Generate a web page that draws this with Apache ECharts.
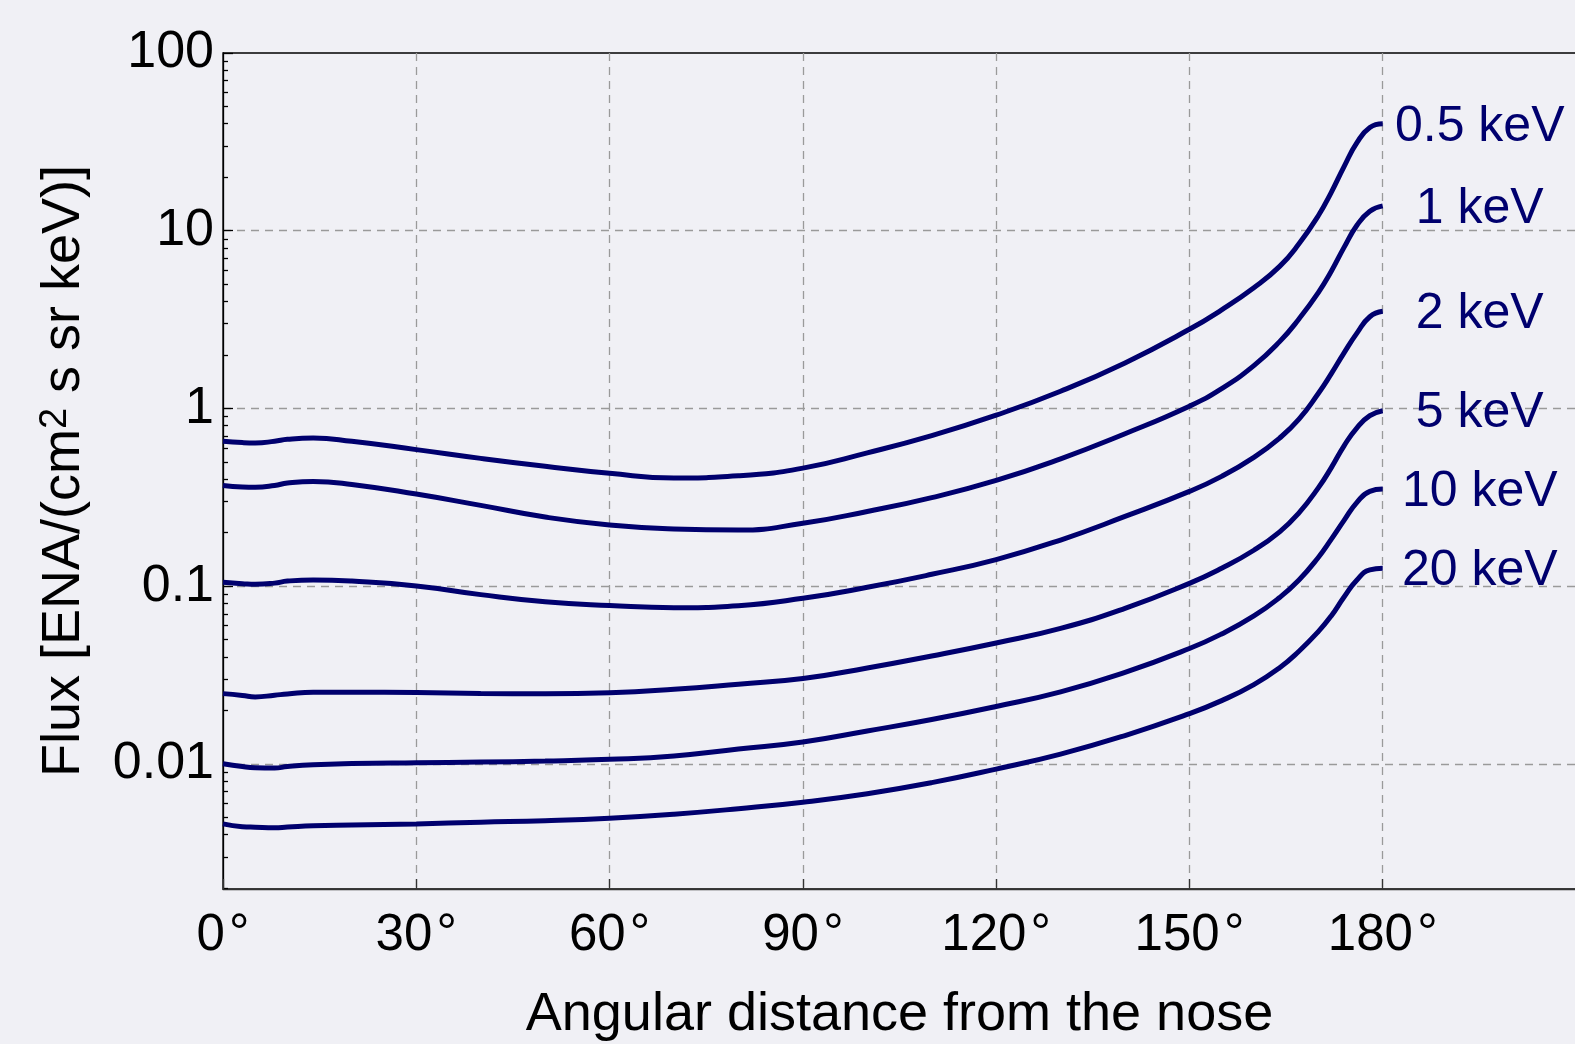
<!DOCTYPE html>
<html>
<head>
<meta charset="utf-8">
<script src="https://cdn.jsdelivr.net/npm/echarts@6/dist/echarts.min.js"></script>
<style>
  html, body { margin: 0; padding: 0; background: #f0f0f5; }
  #chart { width: 1575px; height: 1044px; }
</style>
</head>
<body>
<div id="chart"></div>
<script>
// angular distance from the nose (deg)
const angles = [0, 3, 5, 8, 10, 14, 20, 30, 40, 50, 60, 70, 80, 90, 100, 110, 120, 130, 140, 150, 155, 160, 164, 167, 170, 172, 174, 176, 178, 180]

// flux [ENA/(cm2 s sr keV)] per energy
const flux05 = [0.654, 0.643, 0.640, 0.654, 0.671, 0.682, 0.654, 0.587, 0.524, 0.473, 0.432, 0.407, 0.418, 0.462, 0.563, 0.704, 0.917, 1.25, 1.805, 2.79, 3.59, 4.78, 6.30, 8.44, 12.15, 16.4, 22.96, 31.3, 38.1, 40.0]
const flux1 = [0.369, 0.362, 0.361, 0.369, 0.381, 0.389, 0.374, 0.330, 0.285, 0.245, 0.221, 0.210, 0.207, 0.226, 0.2635, 0.3152, 0.3941, 0.521, 0.7211, 1.03, 1.293, 1.743, 2.378, 3.19, 4.49, 5.90, 8.06, 10.73, 12.86, 13.8]
const flux2 = [0.1052, 0.1034, 0.1025, 0.1041, 0.1069, 0.1085, 0.1069, 0.1004, 0.0897, 0.0818, 0.0779, 0.0757, 0.0777, 0.0855, 0.0986, 0.1167, 0.1413, 0.182, 0.247, 0.3416, 0.415, 0.531, 0.682, 0.871, 1.214, 1.565, 2.056, 2.654, 3.281, 3.52]
const flux5 = [0.02488, 0.02431, 0.02384, 0.02437, 0.02478, 0.02534, 0.02534, 0.02521, 0.02495, 0.02485, 0.02520, 0.02635, 0.02812, 0.03024, 0.03467, 0.04050, 0.04795, 0.0579, 0.0751, 0.1038, 0.1262, 0.1594, 0.2024, 0.2587, 0.3574, 0.4636, 0.6167, 0.7790, 0.9108, 0.9718]
const flux10 = [0.01003, 0.00967, 0.00952, 0.00948, 0.00967, 0.00990, 0.01005, 0.01016, 0.01025, 0.01038, 0.01062, 0.01110, 0.01213, 0.01329, 0.01533, 0.01779, 0.02107, 0.02543, 0.03276, 0.04464, 0.0539, 0.06808, 0.08645, 0.1084, 0.1452, 0.1834, 0.2348, 0.2966, 0.342, 0.3519]
const flux20 = [0.00460, 0.004436, 0.004408, 0.00438, 0.004419, 0.004495, 0.004535, 0.00460, 0.004703, 0.004796, 0.004954, 0.005218, 0.005603, 0.006097, 0.006808, 0.007854, 0.009359, 0.01137, 0.01446, 0.01919, 0.02272, 0.02797, 0.0348, 0.0431, 0.05553, 0.068, 0.08703, 0.1085, 0.1235, 0.1262]

const energyLabels = ['0.5 keV', '1 keV', '2 keV', '5 keV', '10 keV', '20 keV']
const fluxSeries = [flux05, flux1, flux2, flux5, flux10, flux20]

// axis ticks
const xTickValues = [0, 30, 60, 90, 120, 150, 180]
const yTickValues = [0.01, 0.1, 1, 10, 100]
const yTickLabels = ['0.01', '0.1', '1', '10', '100']
const yBottom = 0.00198 // lower edge of the frame

const FONT = "'Liberation Sans', Arial, Helvetica, sans-serif"
const NAVY = '#00006e'
const GRID_LINE = { show: true, lineStyle: { color: '#9a9a9a', width: 1.3, type: [8, 6] } }

// log decades are drawn on a linear axis of log10(flux)
const yMin = Math.log10(yBottom)
const yMax = Math.log10(100)
const yMajor = yTickValues.map(v => Math.log10(v))
const yMinor = []
;[0.001, 0.01, 0.1, 1, 10].forEach(d => {
  for (let m = 2; m <= 9; m++) {
    if (d * m >= yBottom) yMinor.push(Math.log10(d * m))
  }
})

const chart = echarts.init(document.getElementById('chart'))

const series = fluxSeries.map((vals, i) => ({
  type: 'line',
  name: energyLabels[i],
  data: angles.map((a, k) => [a, Math.log10(vals[k])]),
  smooth: 0.5,
  showSymbol: false,
  lineStyle: { color: NAVY, width: 5 },
  itemStyle: { color: NAVY },
  endLabel: {
    show: true,
    formatter: energyLabels[i],
    color: NAVY,
    fontSize: 50,
    fontFamily: FONT,
    align: 'center',
    distance: 97,
    offset: [0, 3]
  }
}))

chart.setOption({
  backgroundColor: '#f0f0f5',
  animation: false,
  grid: {
    left: 223,
    right: -1,
    top: 53,
    bottom: 155,
    outerBoundsMode: 'none',
    containLabel: false,
    show: true,
    borderColor: '#000',
    borderWidth: 1.3
  },
  xAxis: {
    type: 'value',
    min: 0,
    max: 210,
    name: 'Angular distance from the nose',
    nameLocation: 'middle',
    nameGap: 99,
    nameTextStyle: { fontSize: 54, fontFamily: FONT, color: '#000', lineHeight: 54 },
    axisLine: { onZero: false, lineStyle: { color: '#333', width: 1.3 } },
    axisTick: { inside: true, length: 10, customValues: xTickValues, lineStyle: { color: '#333', width: 1.3 } },
    axisLabel: {
      customValues: xTickValues,
      formatter: v => v + '\u200A°',
      fontSize: 51,
      fontFamily: FONT,
      color: '#000',
      margin: 21
    },
    splitLine: Object.assign({ showMinLine: false }, GRID_LINE)
  },
  yAxis: [
    {
      type: 'value',
      min: yMin,
      max: yMax,
      name: 'Flux [ENA/(cm{sup|2} s sr keV)]',
      nameLocation: 'middle',
      nameGap: 132,
      nameTextStyle: {
        fontSize: 54,
        fontFamily: FONT,
        color: '#000',
        lineHeight: 54,
        rich: {
          sup: { fontSize: 38, fontFamily: FONT, color: '#000', verticalAlign: 'top', lineHeight: 16 }
        }
      },
      axisLine: { lineStyle: { color: '#000', width: 1.3 } },
      axisTick: { inside: true, length: 10, customValues: yMajor, lineStyle: { color: '#000', width: 1.3 } },
      axisLabel: {
        customValues: yMajor,
        formatter: v => yTickLabels[yMajor.findIndex(t => Math.abs(t - v) < 1e-6)],
        fontSize: 52,
        fontFamily: FONT,
        color: '#000',
        margin: 9
      },
      splitLine: Object.assign({ showMaxLine: false }, GRID_LINE)
    },
    {
      // minor log ticks only
      type: 'value',
      position: 'left',
      min: yMin,
      max: yMax,
      axisLine: { show: false },
      axisTick: { show: true, inside: true, length: 5, customValues: yMinor, lineStyle: { color: '#000', width: 1.3 } },
      axisLabel: { show: false },
      splitLine: { show: false }
    }
  ],
  series: series
})
</script>
</body>
</html>
